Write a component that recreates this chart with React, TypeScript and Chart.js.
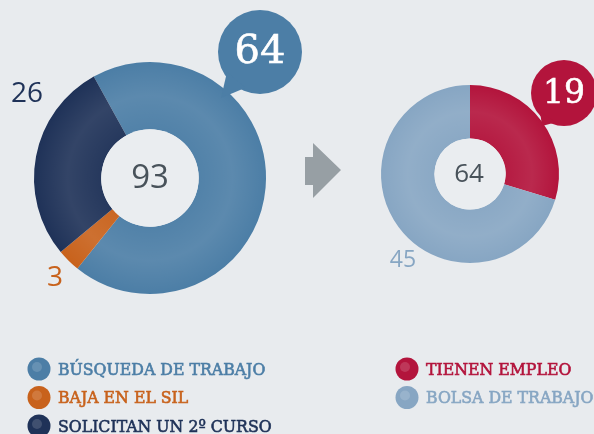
import React, { useEffect, useRef } from "react";
import { Chart, registerables } from "chart.js";

Chart.register(...registerables);

const leftCategories = ["BÚSQUEDA DE TRABAJO", "BAJA EN EL SIL", "SOLICITAN UN 2º CURSO"];
const leftValues = [64, 3, 26];
const leftColors = ["#4c7ea6", "#c8621c", "#1f3258"];
const leftTotal = 93;

const rightCategories = ["TIENEN EMPLEO", "BOLSA DE TRABAJO"];
const rightValues = [19, 45];
const rightColors = ["#b3143c", "#87a6c3"];
const rightTotal = 64;

const BG = "#e8ebee";
const HOLE = "#eaedf0";
const W = 594;
const H = 434;
const SERIF = "'DejaVu Serif', serif";
const SANS = "'Open Sans', sans-serif";

function drawBubble(ctx: CanvasRenderingContext2D, x: number, y: number, r: number, tx: number, ty: number, color: string, text: string, size: number) {
  const ang = Math.atan2(ty - y, tx - x);
  const spread = 0.32;
  ctx.save();
  ctx.fillStyle = color;
  ctx.beginPath();
  ctx.arc(x, y, r, 0, Math.PI * 2);
  ctx.fill();
  ctx.beginPath();
  ctx.moveTo(x + Math.cos(ang - spread) * r * 0.92, y + Math.sin(ang - spread) * r * 0.92);
  ctx.lineTo(tx, ty);
  ctx.lineTo(x + Math.cos(ang + spread) * r * 0.92, y + Math.sin(ang + spread) * r * 0.92);
  ctx.closePath();
  ctx.fill();
  ctx.fillStyle = "#ffffff";
  ctx.strokeStyle = "#ffffff";
  ctx.lineWidth = 0.6;
  ctx.font = `${size}px ${SERIF}`;
  ctx.textAlign = "center";
  ctx.textBaseline = "middle";
  ctx.fillText(text, x, y + 1);
  ctx.strokeText(text, x, y + 1);
  ctx.restore();
}

function drawLegend(ctx: CanvasRenderingContext2D, x: number, y: number, labels: string[], colors: string[]) {
  ctx.save();
  labels.forEach((lab, i) => {
    const yy = y + i * 28.5;
    ctx.fillStyle = colors[i];
    ctx.beginPath();
    ctx.arc(x, yy, 11.5, 0, Math.PI * 2);
    ctx.fill();
    ctx.globalAlpha = 0.15;
    ctx.fillStyle = "#ffffff";
    ctx.beginPath();
    ctx.arc(x - 2, yy - 2, 5, 0, Math.PI * 2);
    ctx.fill();
    ctx.globalAlpha = 1;
    ctx.fillStyle = colors[i];
    ctx.strokeStyle = colors[i];
    ctx.lineWidth = 0.6;
    (ctx as any).fontStretch = "condensed";
    ctx.font = `condensed 17.5px ${SERIF}`;
    ctx.textAlign = "left";
    ctx.textBaseline = "middle";
    ctx.fillText(lab, x + 19, yy + 1);
    ctx.strokeText(lab, x + 19, yy + 1);
  });
  ctx.restore();
}

function centerInfo(chart: any) {
  const arc = chart.getDatasetMeta(0).data[0] as any;
  return { cx: arc.x, cy: arc.y, ro: arc.outerRadius, ri: arc.innerRadius };
}

function ringShade(ctx: CanvasRenderingContext2D, cx: number, cy: number, ro: number, ri: number) {
  ctx.save();
  ctx.beginPath();
  ctx.arc(cx, cy, ro, 0, Math.PI * 2);
  ctx.arc(cx, cy, ri, 0, Math.PI * 2, true);
  ctx.clip();
  const g = ctx.createRadialGradient(cx, cy, ri, cx, cy, ro);
  g.addColorStop(0, "rgba(255,255,255,0.03)");
  g.addColorStop(0.5, "rgba(255,255,255,0.09)");
  g.addColorStop(1, "rgba(255,255,255,0.0)");
  ctx.fillStyle = g;
  ctx.fillRect(cx - ro, cy - ro, ro * 2, ro * 2);
  ctx.restore();
}

const leftPlugin = {
  id: "leftDeco",
  afterDatasetsDraw(chart: any) {
    const ctx: CanvasRenderingContext2D = chart.ctx;
    const { cx, cy, ro, ri } = centerInfo(chart);
    ringShade(ctx, cx, cy, ro, ri);
    ctx.save();
    ctx.fillStyle = HOLE;
    ctx.beginPath();
    ctx.arc(cx, cy, ri, 0, Math.PI * 2);
    ctx.fill();
    ctx.fillStyle = "#48525a";
    ctx.font = `33px ${SANS}`;
    ctx.textAlign = "center";
    ctx.textBaseline = "middle";
    ctx.fillText(String(leftTotal), cx, cy + 1);
    ctx.font = `28px ${SANS}`;
    ctx.fillStyle = leftColors[2];
    ctx.fillText(String(leftValues[2]), cx - 123, cy - 84);
    ctx.fillStyle = leftColors[1];
    ctx.fillText(String(leftValues[1]), cx - 95, cy + 100);
    ctx.restore();
    drawBubble(ctx, cx + 110, cy - 126, 42, cx + 71, cy - 80, leftColors[0], String(leftValues[0]), 40);
    ctx.save();
    ctx.fillStyle = "#979fa4";
    ctx.beginPath();
    ctx.moveTo(305, 157);
    ctx.lineTo(313, 157);
    ctx.lineTo(313, 143);
    ctx.lineTo(341, 170);
    ctx.lineTo(313, 198);
    ctx.lineTo(313, 185);
    ctx.lineTo(305, 185);
    ctx.closePath();
    ctx.fill();
    ctx.restore();
    drawLegend(ctx, 39, 369, leftCategories, leftColors);
  },
};

const rightPlugin = {
  id: "rightDeco",
  afterDatasetsDraw(chart: any) {
    const ctx: CanvasRenderingContext2D = chart.ctx;
    const { cx, cy, ro, ri } = centerInfo(chart);
    ringShade(ctx, cx, cy, ro, ri);
    ctx.save();
    ctx.fillStyle = HOLE;
    ctx.beginPath();
    ctx.arc(cx, cy, ri, 0, Math.PI * 2);
    ctx.fill();
    ctx.fillStyle = "#48525a";
    ctx.font = `26px ${SANS}`;
    ctx.textAlign = "center";
    ctx.textBaseline = "middle";
    ctx.fillText(String(rightTotal), cx - 1, cy + 1);
    ctx.font = `23px ${SANS}`;
    ctx.fillStyle = rightColors[1];
    ctx.fillText(String(rightValues[1]), cx - 67, cy + 86);
    ctx.restore();
    drawBubble(ctx, cx + 94, cy - 81, 33, cx + 72, cy - 48, rightColors[0], String(rightValues[0]), 33);
    drawLegend(ctx, 407, 369, rightCategories, rightColors);
  },
};

export default function App() {
  const c1 = useRef<HTMLCanvasElement>(null);
  const c2 = useRef<HTMLCanvasElement>(null);

  useEffect(() => {
    document.body.style.margin = "0";
    document.body.style.background = BG;
    const ch1 = new Chart(c1.current!, {
      type: "doughnut",
      data: {
        labels: leftCategories,
        datasets: [{ data: leftValues, backgroundColor: leftColors, borderWidth: 0 }],
      },
      options: {
        responsive: false,
        animation: false,
        rotation: -29,
        cutout: "42%",
        layout: { padding: { left: 34, top: 62, right: W - 34 - 232, bottom: H - 62 - 232 } },
        plugins: { legend: { display: false }, tooltip: { enabled: false } },
        events: [],
      },
      plugins: [leftPlugin],
    });
    const ch2 = new Chart(c2.current!, {
      type: "doughnut",
      data: {
        labels: rightCategories,
        datasets: [{ data: rightValues, backgroundColor: rightColors, borderWidth: 0 }],
      },
      options: {
        responsive: false,
        animation: false,
        rotation: 0,
        cutout: "40%",
        layout: { padding: { left: 381, top: 85, right: W - 381 - 178, bottom: H - 85 - 178 } },
        plugins: { legend: { display: false }, tooltip: { enabled: false } },
        events: [],
      },
      plugins: [rightPlugin],
    });
    return () => {
      ch1.destroy();
      ch2.destroy();
    };
  }, []);

  return (
    <div style={{ position: "relative", width: W, height: H, background: BG, overflow: "hidden" }}>
      <canvas ref={c1} width={W} height={H} style={{ position: "absolute", left: 0, top: 0 }} />
      <canvas ref={c2} width={W} height={H} style={{ position: "absolute", left: 0, top: 0 }} />
    </div>
  );
}
